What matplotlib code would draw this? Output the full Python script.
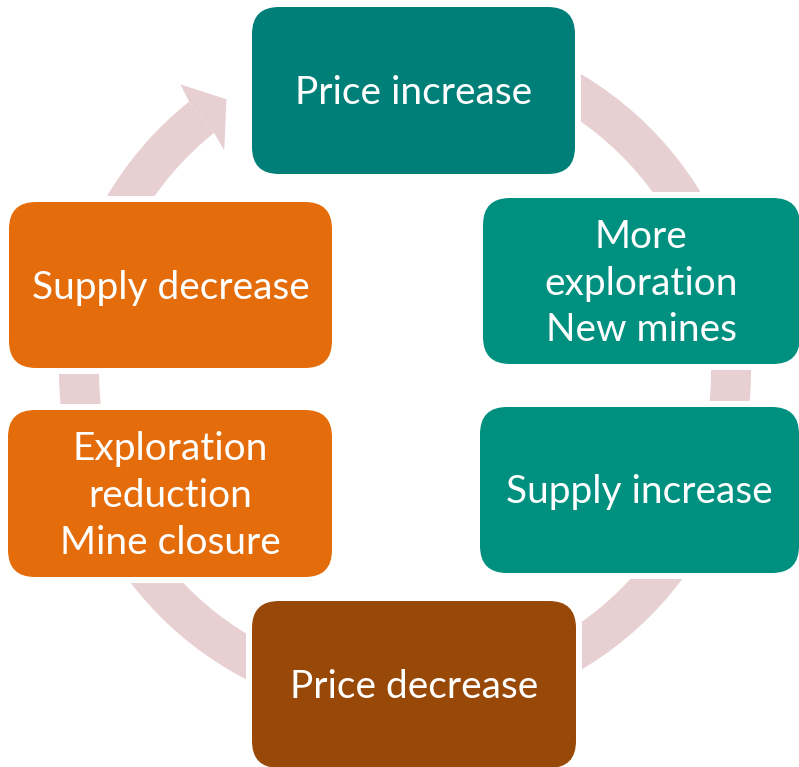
import matplotlib
matplotlib.use('Agg')
import matplotlib.pyplot as plt
from matplotlib.patches import FancyBboxPatch, Wedge, Polygon
import numpy as np

W, H = 799, 767

# tekst i kolory pudełek (kolejność zgodnie z ruchem wskazówek zegara)
labels = ['Price increase', 'More\nexploration\nNew mines', 'Supply increase',
          'Price decrease', 'Exploration\nreduction\nMine closure', 'Supply decrease']
box_colors = ['#007F78', '#009080', '#009080', '#984807', '#E46C0A', '#E46C0A']

# układ pudełek w pikselach od lewego górnego rogu: lewo, góra, prawo, dół
box_layout = [(252, 7, 575, 174), (483, 198, 800, 364), (480, 407, 799, 573),
              (252, 601, 576, 768), (8, 410, 332, 577), (9, 202, 332, 368)]

ring_color = '#E8D0D2'
cx, cy = 405, H - 372   # środek pierścienia
r_out, r_w = 346, 40
gap = 6
corner = 27

fig = plt.figure(figsize=(W / 100, H / 100), dpi=100)
ax = fig.add_axes([0, 0, 1, 1])
ax.set_xlim(0, W)
ax.set_ylim(0, H)
ax.axis('off')


def polar(r, a):
    a = np.deg2rad(a)
    return (cx + r * np.cos(a), cy + r * np.sin(a))


# pierścień (ogon ukryty pod górnym pudełkiem)
ax.add_patch(Wedge((cx, cy), r_out, 128.6, 460, width=r_w, color=ring_color, lw=0))
# grot strzałki
head = [polar(r_out, 128.6), polar(365, 128.0), polar(r_out - r_w / 2, 123.2),
        polar(286, 129.2), polar(r_out - r_w, 128.6)]
ax.add_patch(Polygon(head, closed=True, color=ring_color, lw=0))

# białe marginesy wokół pudełek
for (l, t, r, b) in box_layout:
    ax.add_patch(FancyBboxPatch((l - gap, H - b - gap), r - l + 2 * gap, b - t + 2 * gap,
                                boxstyle='round,pad=0,rounding_size=%d' % (corner + gap),
                                fc='white', ec='none'))

for (l, t, r, b), c in zip(box_layout, box_colors):
    ax.add_patch(FancyBboxPatch((l, H - b), r - l, b - t,
                                boxstyle='round,pad=0,rounding_size=%d' % corner,
                                fc=c, ec='none'))

# dopasowanie rozmiaru czcionki do szerokości "Price increase" (~237 px)
family = 'Lato'
renderer = fig.canvas.get_renderer()
probe = ax.text(0, 0, 'Price increase', fontsize=30, family=family)
fs = 30 * 237 / probe.get_window_extent(renderer).width
probe.remove()

line_step = 46.7
cap_half = 13.5
for (l, t, r, b), txt in zip(box_layout, labels):
    lines = txt.split('\n')
    n = len(lines)
    xc = (l + min(r, W)) / 2
    yc = (t + min(b, H)) / 2
    for i, line in enumerate(lines):
        base = yc + cap_half + (i - (n - 1) / 2) * line_step
        ax.text(xc, H - base, line, color='white', fontsize=fs, family=family,
                ha='center', va='baseline')

fig.savefig('out.png', dpi=100)
